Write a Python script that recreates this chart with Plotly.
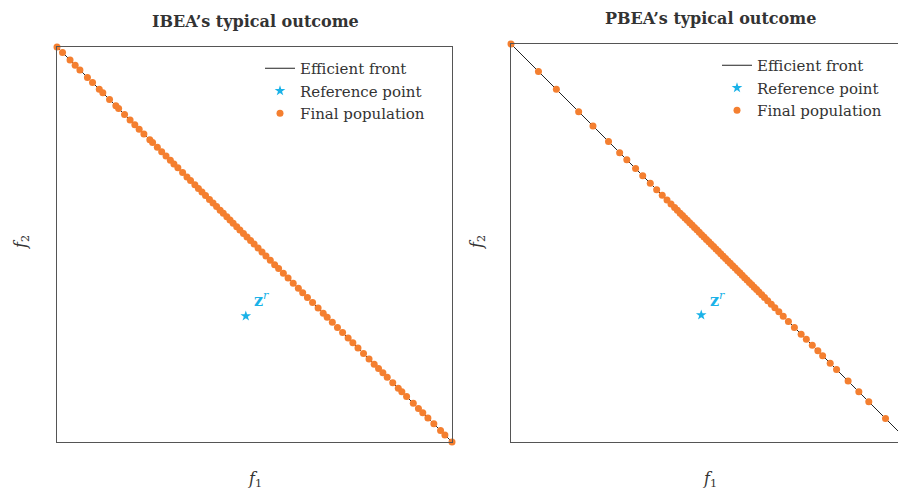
import plotly.graph_objects as go

# ---------------- data ----------------
front_f1 = [0.0, 1.0]
front_f2 = [1.0, 0.0]
ref_point_f1 = [0.478]
ref_point_f2 = [0.319]

ibea_f1 = [0.000, 0.014, 0.033, 0.046, 0.058, 0.077, 0.090, 0.107, 0.116, 0.133, 0.149, 0.156, 0.171, 0.185,
           0.197, 0.208, 0.220, 0.235, 0.242, 0.254, 0.265, 0.276, 0.287, 0.296, 0.306, 0.318, 0.329, 0.338,
           0.349, 0.358, 0.367, 0.376, 0.386, 0.395, 0.404, 0.413, 0.421, 0.430, 0.438, 0.446, 0.455, 0.463,
           0.472, 0.481, 0.490, 0.499, 0.509, 0.519, 0.529, 0.540, 0.551, 0.561, 0.573, 0.585, 0.598, 0.611,
           0.622, 0.634, 0.647, 0.661, 0.674, 0.684, 0.697, 0.710, 0.723, 0.737, 0.749, 0.762, 0.776, 0.790,
           0.803, 0.814, 0.825, 0.836, 0.850, 0.864, 0.873, 0.885, 0.902, 0.915, 0.926, 0.939, 0.954, 0.971,
           0.982, 1.000]
ibea_f2 = [1.000, 0.986, 0.967, 0.954, 0.942, 0.923, 0.910, 0.893, 0.884, 0.867, 0.851, 0.844, 0.829, 0.815,
           0.803, 0.792, 0.780, 0.765, 0.758, 0.746, 0.735, 0.724, 0.713, 0.704, 0.694, 0.682, 0.671, 0.662,
           0.651, 0.642, 0.633, 0.624, 0.614, 0.605, 0.596, 0.587, 0.579, 0.570, 0.562, 0.554, 0.545, 0.537,
           0.528, 0.519, 0.510, 0.501, 0.491, 0.481, 0.471, 0.460, 0.449, 0.439, 0.427, 0.415, 0.402, 0.389,
           0.378, 0.366, 0.353, 0.339, 0.326, 0.316, 0.303, 0.290, 0.277, 0.263, 0.251, 0.238, 0.224, 0.210,
           0.197, 0.186, 0.175, 0.164, 0.150, 0.136, 0.127, 0.115, 0.098, 0.085, 0.074, 0.061, 0.046, 0.029,
           0.018, 0.000]

pbea_f1 = [0.000, 0.069, 0.114, 0.170, 0.206, 0.245, 0.273, 0.291, 0.313, 0.331, 0.350, 0.366, 0.380, 0.392,
           0.402, 0.411, 0.418, 0.425, 0.431, 0.437, 0.443, 0.449, 0.455, 0.461, 0.467, 0.473, 0.479, 0.485,
           0.491, 0.497, 0.503, 0.509, 0.515, 0.521, 0.527, 0.533, 0.539, 0.545, 0.551, 0.557, 0.563, 0.569,
           0.575, 0.581, 0.587, 0.593, 0.599, 0.605, 0.611, 0.617, 0.623, 0.630, 0.637, 0.645, 0.654, 0.663,
           0.673, 0.684, 0.697, 0.712, 0.729, 0.742, 0.757, 0.771, 0.783, 0.802, 0.818, 0.847, 0.874, 0.899,
           0.941, 1.000]
pbea_f2 = [1.000, 0.931, 0.886, 0.830, 0.794, 0.755, 0.727, 0.709, 0.687, 0.669, 0.650, 0.634, 0.620, 0.608,
           0.598, 0.589, 0.582, 0.575, 0.569, 0.563, 0.557, 0.551, 0.545, 0.539, 0.533, 0.527, 0.521, 0.515,
           0.509, 0.503, 0.497, 0.491, 0.485, 0.479, 0.473, 0.467, 0.461, 0.455, 0.449, 0.443, 0.437, 0.431,
           0.425, 0.419, 0.413, 0.407, 0.401, 0.395, 0.389, 0.383, 0.377, 0.370, 0.363, 0.355, 0.346, 0.337,
           0.327, 0.316, 0.303, 0.288, 0.271, 0.258, 0.243, 0.229, 0.217, 0.198, 0.182, 0.153, 0.126, 0.101,
           0.059, 0.000]

titles = ["IBEA\u2019s typical outcome", "PBEA\u2019s typical outcome"]
legend_names = ["Efficient front", "Reference point", "Final population"]

# ---------------- style ----------------
SERIF = "DejaVu Serif, Liberation Serif, serif"
TXT = "#333333"
ORANGE = "#f47f30"
BLUE = "#1ab2e8"
W, H = 898, 492

fig = go.Figure()

panels = [
    dict(xa="x", ya="y", f1=ibea_f1, f2=ibea_f2, legend="legend"),
    dict(xa="x2", ya="y2", f1=pbea_f1, f2=pbea_f2, legend="legend2"),
]
for p in panels:
    fig.add_trace(go.Scatter(x=front_f1, y=front_f2, mode="lines", name=legend_names[0],
                             line=dict(color="#222222", width=1), xaxis=p["xa"], yaxis=p["ya"],
                             legend=p["legend"]))
    fig.add_trace(go.Scatter(x=ref_point_f1, y=ref_point_f2, mode="markers", name=legend_names[1],
                             marker=dict(symbol="star", size=8, color=BLUE), xaxis=p["xa"], yaxis=p["ya"],
                             legend=p["legend"], cliponaxis=False))
    fig.add_trace(go.Scatter(x=p["f1"], y=p["f2"], mode="markers", name=legend_names[2],
                             marker=dict(symbol="circle", size=7, color=ORANGE), xaxis=p["xa"], yaxis=p["ya"],
                             legend=p["legend"], cliponaxis=False))

ax_common = dict(showgrid=False, zeroline=False, showticklabels=False, ticks="",
                 showline=True, linecolor="#555555", linewidth=1)

leg_font = dict(family=SERIF, size=15, color=TXT)
fig.update_layout(
    width=W, height=H, autosize=False,
    margin=dict(l=0, r=0, t=0, b=0),
    paper_bgcolor="white", plot_bgcolor="white",
    font=dict(family=SERIF, size=15, color=TXT),
    xaxis=dict(domain=[57 / W, 452 / W], range=[0, 1], mirror=True, **ax_common),
    yaxis=dict(domain=[1 - 442 / H, 1 - 47 / H], range=[0, 1], mirror=True, **ax_common),
    xaxis2=dict(domain=[511 / W, 1.0], range=[0, 387 / 398], mirror=True, anchor="y2", **ax_common),
    yaxis2=dict(domain=[1 - 442 / H, 1 - 44 / H], range=[0, 1], mirror=False, anchor="x2", **ax_common),
    legend=dict(x=260 / W, y=1 - 52 / H, xanchor="left", yanchor="top", bgcolor="rgba(0,0,0,0)",
                font=leg_font, tracegroupgap=0),
    legend2=dict(x=717 / W, y=1 - 49 / H, xanchor="left", yanchor="top", bgcolor="rgba(0,0,0,0)",
                 font=leg_font, tracegroupgap=0),
    showlegend=True,
)


def ann(text, x, y, size, **kw):
    d = dict(text=text, x=x, y=y, xref="paper", yref="paper", xanchor="center", yanchor="middle",
             showarrow=False, font=dict(family=SERIF, size=size, color=TXT))
    d.update(kw)
    return d


annotations = [
    ann("<b>" + titles[0] + "</b>", 255 / W, 1 - 22 / H, 16),
    ann("<b>" + titles[1] + "</b>", 710 / W, 1 - 19 / H, 16),
    ann("<i>f</i><sub>1</sub>", 255 / W, 1 - 479 / H, 16),
    ann("<i>f</i><sub>1</sub>", 710 / W, 1 - 479 / H, 16),
    ann("<i>f</i><sub>2</sub>", 21 / W, 1 - 242 / H, 16, textangle=-90),
    ann("<i>f</i><sub>2</sub>", 477 / W, 1 - 242 / H, 16, textangle=-90),
    dict(text="<b>z</b><sup><i>r</i></sup>", x=ref_point_f1[0], y=ref_point_f2[0], xref="x", yref="y",
         xshift=16, yshift=16, showarrow=False, font=dict(family=SERIF, size=16, color=BLUE)),
    dict(text="<b>z</b><sup><i>r</i></sup>", x=ref_point_f1[0], y=ref_point_f2[0], xref="x2", yref="y2",
         xshift=16, yshift=16, showarrow=False, font=dict(family=SERIF, size=16, color=BLUE)),
]
fig.update_layout(annotations=annotations)

fig.write_html("out.html")
